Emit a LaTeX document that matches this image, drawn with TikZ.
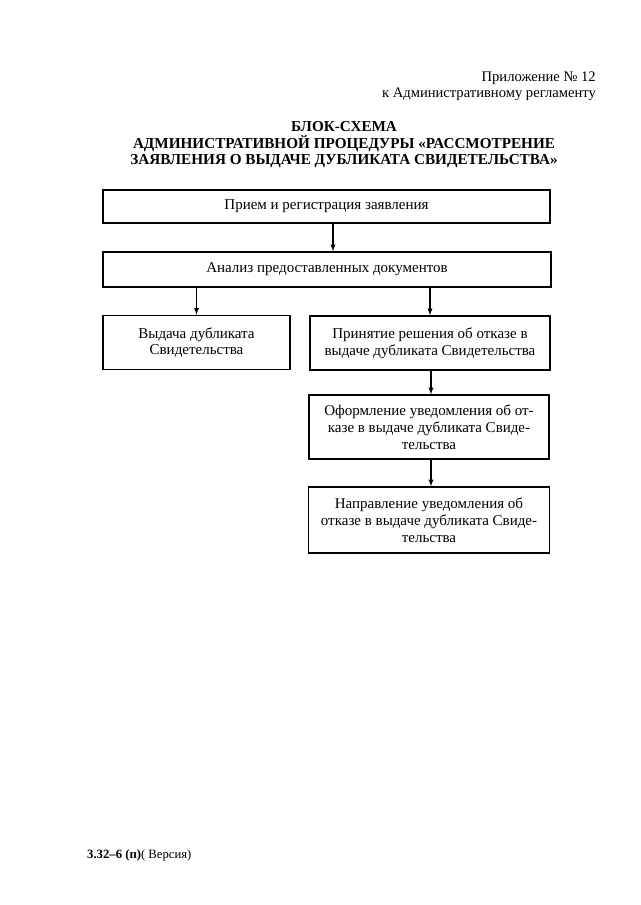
\documentclass[tikz,border=0pt]{standalone}
\usepackage{fontspec}
\setmainfont{Liberation Serif}
\begin{document}
\begin{tikzpicture}[x=1pt, y=-1pt, >=latex,
    blok/.style={draw, line width=1.5pt, align=center, inner sep=2pt,
        font=\fontsize{15}{16.8}\selectfont},
    strelka/.style={->, line width=1.3pt}]

    % 0. Границы листа
    \useasboundingbox (0,0) rectangle (640,905);

    % 1. Шапка (приложение)
    \node[anchor=base east, inner sep=0pt, font=\fontsize{14.6}{16.5}\selectfont] (pril) at (596,81) {Приложение № 12};
    \node[anchor=base east, inner sep=0pt, font=\fontsize{14.6}{16.5}\selectfont] (regl) at (596,97) {к Административному регламенту};

    % 2. Заголовок
    \node[align=center, inner sep=0pt, font=\bfseries\fontsize{15.2}{16.5}\selectfont] (zag) at (344,145)
        {БЛОК-СХЕМА\\АДМИНИСТРАТИВНОЙ ПРОЦЕДУРЫ «РАССМОТРЕНИЕ\\ЗАЯВЛЕНИЯ О ВЫДАЧЕ ДУБЛИКАТА СВИДЕТЕЛЬСТВА»};

    % 3. Блоки
    \node[blok, minimum width=447, minimum height=33] (priem) at (326.5,206.5) {Прием и регистрация заявления};
    \node[blok, minimum width=448, minimum height=35] (analiz) at (327,269.5) {Анализ предоставленных документов};
    \node[blok, minimum width=187, minimum height=54] (vydacha) at (196.5,342.5) {Выдача дубликата\\Свидетельства};
    \node[blok, minimum width=240, minimum height=54] (otkaz) at (430,343) {Принятие решения об отказе в\\выдаче дубликата Свидетельства};
    \node[blok, minimum width=240, minimum height=64] (oform) at (429,427) {Оформление уведомления об от-\\казе в выдаче дубликата Свиде-\\тельства};
    \node[blok, minimum width=241, minimum height=66] (napr) at (429,520) {Направление уведомления об\\отказе в выдаче дубликата Свиде-\\тельства};

    % 4. Стрелки
    \draw[strelka] ([xshift=6.5pt]priem.south) -- ([xshift=6pt]analiz.north);
    \draw[strelka] (analiz.south -| vydacha.north) -- (vydacha.north);
    \draw[strelka] (analiz.south -| otkaz.north) -- (otkaz.north);
    \draw[strelka] ([xshift=1pt]otkaz.south) -- ([xshift=2pt]oform.north);
    \draw[strelka] ([xshift=2pt]oform.south) -- ([xshift=2pt]napr.north);

    % 5. Подвал
    \node[anchor=base west, inner sep=0pt, font=\fontsize{12.7}{14}\selectfont] (versiya) at (87,858) {\textbf{3.32–6 (п)}( Версия)};

\end{tikzpicture}
\end{document}
